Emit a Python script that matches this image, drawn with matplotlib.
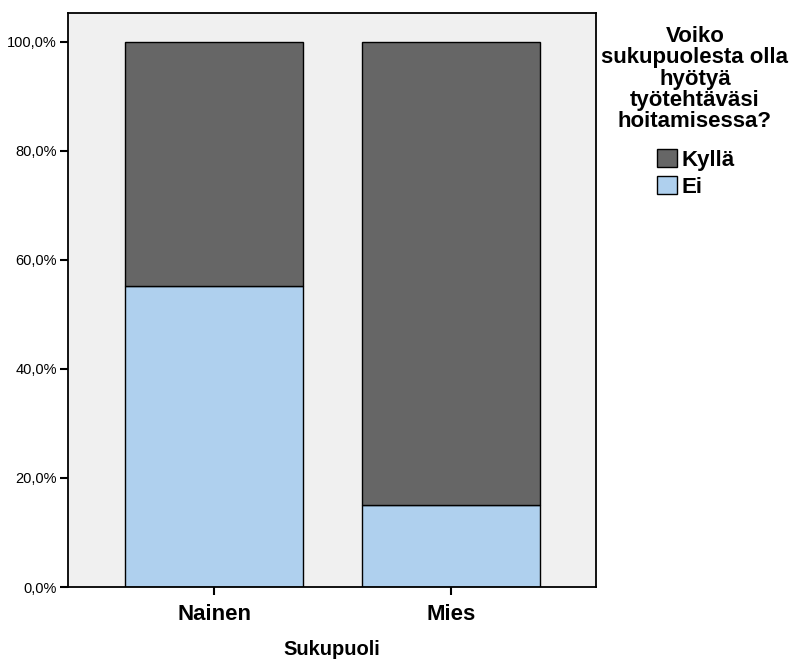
import matplotlib.pyplot as plt
import numpy as np
from matplotlib.patches import Patch
from matplotlib.ticker import FuncFormatter

# data (percent within each gender)
sukupuoli = ['Nainen', 'Mies']
ei = [55.2, 15.0]
kylla = [44.8, 85.0]

vari_kylla = '#666666'
vari_ei = '#AFD0EE'

plt.rcParams['font.family'] = ['Liberation Sans', 'DejaVu Sans']

fig = plt.figure(figsize=(7.93, 6.66), dpi=100)
ax = fig.add_axes([0.0858, 0.1186, 0.6658, 0.862])
ax.set_facecolor('#F0F0F0')

x = np.arange(len(sukupuoli))
leveys = 0.751
ax.bar(x, ei, leveys, color=vari_ei, edgecolor='black', linewidth=1)
ax.bar(x, kylla, leveys, bottom=ei, color=vari_kylla, edgecolor='black', linewidth=1)

ax.set_xlim(-0.616, 1.612)
ax.set_ylim(0, 105.3)
ax.set_yticks([0, 20, 40, 60, 80, 100])
ax.yaxis.set_major_formatter(FuncFormatter(lambda v, p: f'{v:.1f}%'.replace('.', ',')))
ax.set_xticks(x)
ax.set_xticklabels(sukupuoli, fontsize=16, fontweight='bold')
ax.tick_params(axis='y', labelsize=10.5, length=6, width=1.5, direction='out', pad=2)
ax.tick_params(axis='x', length=6, width=1.5, direction='out', pad=6)
for s in ax.spines.values():
    s.set_linewidth(1.3)

ax.set_xlabel('Sukupuoli', fontsize=14.5, fontweight='bold', labelpad=11)

# legend title and entries
fig.text(0.8764, 0.961, 'Voiko\nsukupuolesta olla\nhyötyä\ntyötehtäväsi\nhoitamisessa?',
         ha='center', va='top', fontsize=16, fontweight='bold', linespacing=1.02)
kasittelijat = [Patch(facecolor=vari_kylla, edgecolor='black'),
                Patch(facecolor=vari_ei, edgecolor='black')]
fig.legend(kasittelijat, ['Kyllä', 'Ei'], loc='upper left', bbox_to_anchor=(657 / 793, 1 - 149 / 666),
           frameon=False, prop={'size': 16, 'weight': 'bold'},
           handlelength=0.9, handleheight=0.9, handletextpad=0.22, labelspacing=0.22,
           borderpad=0, borderaxespad=0)

plt.savefig('out.png', dpi=100)
